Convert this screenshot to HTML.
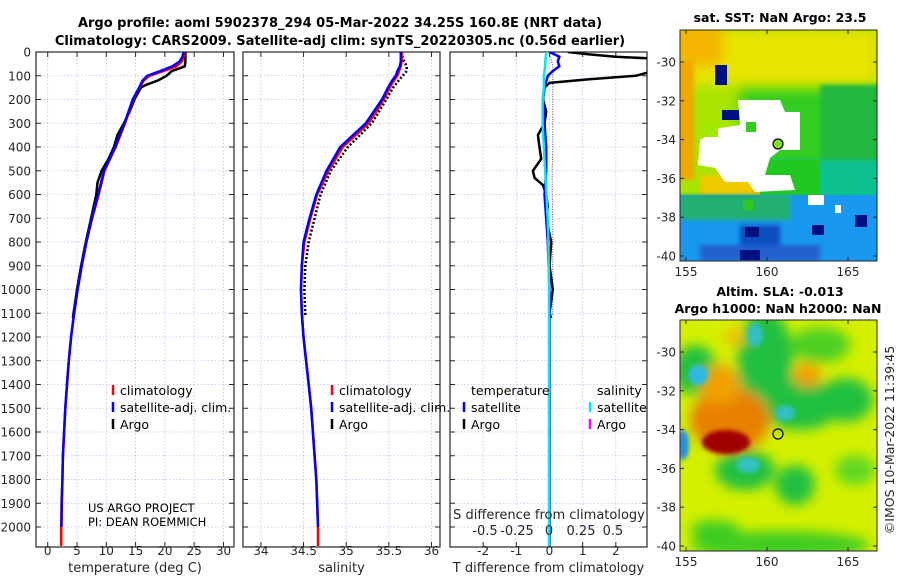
<!DOCTYPE html>
<html><head><meta charset="utf-8">
<style>
html,body{margin:0;padding:0;background:#fff;}
svg{display:block;font-family:"DejaVu Sans","Liberation Sans",sans-serif;}
.tk{font-size:12px;fill:#262626;}
.tt{font-size:13px;font-weight:bold;fill:#000;}
.lg{font-size:12px;fill:#000;}
</style></head>
<body>
<svg id="fig" width="900" height="580" viewBox="0 0 900 580" xmlns="http://www.w3.org/2000/svg">
<defs>
<filter id="bl" x="-50%" y="-50%" width="200%" height="200%"><feGaussianBlur stdDeviation="6"/></filter>
<filter id="bl2" x="-50%" y="-50%" width="200%" height="200%"><feGaussianBlur stdDeviation="2"/></filter>
<clipPath id="cm1"><rect x="680" y="30" width="197" height="231"/></clipPath>
<clipPath id="cm2"><rect x="680" y="320" width="197" height="231"/></clipPath>
<clipPath id="cp3"><rect x="450" y="52" width="197" height="495"/></clipPath>
</defs>
<text class="tt" x="340" y="27" text-anchor="middle">Argo profile: aoml 5902378_294 05-Mar-2022 34.25S 160.8E (NRT data)</text>
<text class="tt" x="340" y="45" text-anchor="middle">Climatology: CARS2009. Satellite-adj clim: synTS_20220305.nc (0.56d earlier)</text>
<g id="panels"></g>

<!-- SST map -->
<g>
<text class="tt" x="780" y="22" text-anchor="middle" style="font-size:12.5px">sat. SST: NaN Argo: 23.5</text>
<g clip-path="url(#cm1)">
<rect x="680" y="30" width="197" height="231" fill="#a8e400"/>
<rect x="680" y="30" width="197" height="55" fill="#e8e400" filter="url(#bl)"/>
<rect x="672" y="25" width="50" height="40" fill="#f5b400" filter="url(#bl)"/>
<rect x="672" y="60" width="22" height="120" fill="#f0a800" filter="url(#bl2)"/>
<rect x="740" y="90" width="140" height="80" fill="#30cc20" filter="url(#bl)"/>
<rect x="820" y="85" width="60" height="115" fill="#20b840" filter="url(#bl2)"/>
<rect x="770" y="160" width="110" height="40" fill="#10c090" filter="url(#bl2)"/>
<rect x="700" y="175" width="60" height="30" fill="#f0c800" filter="url(#bl2)"/>
<rect x="760" y="160" width="60" height="35" fill="#20c820"/>
<rect x="680" y="195" width="197" height="70" fill="#1898f0"/>
<rect x="680" y="195" width="110" height="25" fill="#20b070" filter="url(#bl2)"/>
<rect x="740" y="225" width="40" height="30" fill="#1050c0" filter="url(#bl2)"/>
<rect x="700" y="245" width="120" height="16" fill="#2060d0" filter="url(#bl2)"/>
<rect x="855" y="215" width="12" height="12" fill="#001080"/>
<rect x="740" y="250" width="20" height="10" fill="#001080"/>
<rect x="812" y="225" width="12" height="10" fill="#001080"/>
<rect x="745" y="227" width="14" height="10" fill="#001080"/>
<rect x="715" y="65" width="12" height="20" fill="#001080"/>
<rect x="722" y="110" width="18" height="10" fill="#001080"/>
<rect x="768" y="135" width="9" height="10" fill="#001080"/>
<rect x="733" y="130" width="10" height="8" fill="#0060d0"/>
<path d="M738 100 L780 100 L785 112 L800 112 L800 150 L780 150 L770 158 L765 175 L790 175 L795 190 L755 192 L748 182 L725 182 L715 168 L698 165 L700 140 L720 128 L740 125 Z" fill="#fff"/>
<rect x="746" y="122" width="10" height="10" fill="#30d020"/>
<rect x="706" y="122" width="12" height="15" fill="#a0e800"/>
<rect x="743" y="200" width="10" height="10" fill="#30c820"/>
<rect x="808" y="195" width="16" height="10" fill="#fff"/>
<rect x="835" y="205" width="6" height="8" fill="#fff"/>
</g>
<rect x="680" y="30" width="197" height="231" fill="none" stroke="#262626" stroke-width="1"/>
<circle cx="778" cy="144" r="5" fill="#80e020" stroke="#000" stroke-width="1.2"/>
<g id="m1ticks"></g>
</g>

<!-- SLA map -->
<g>
<text class="tt" x="780" y="296" text-anchor="middle" style="font-size:12.5px">Altim. SLA: -0.013</text>
<text class="tt" x="778" y="313" text-anchor="middle" style="font-size:12.5px">Argo h1000: NaN h2000: NaN</text>
<g clip-path="url(#cm2)">
<rect x="680" y="320" width="197" height="231" fill="#d4f000"/>
<g filter="url(#bl)">
<ellipse cx="765" cy="360" rx="28" ry="50" fill="#20c040"/>
<ellipse cx="800" cy="405" rx="40" ry="25" fill="#20c040"/>
<ellipse cx="695" cy="370" rx="22" ry="25" fill="#20c040"/>
<ellipse cx="845" cy="400" rx="28" ry="22" fill="#20c040"/>
<ellipse cx="745" cy="470" rx="30" ry="20" fill="#20c040"/>
<ellipse cx="795" cy="485" rx="20" ry="20" fill="#20c040"/>
<ellipse cx="820" cy="345" rx="30" ry="18" fill="#50d020"/>
<ellipse cx="780" cy="545" rx="90" ry="14" fill="#40cc20"/>
<ellipse cx="715" cy="530" rx="25" ry="10" fill="#40cc20"/>
<ellipse cx="855" cy="470" rx="20" ry="15" fill="#60d820"/>
<ellipse cx="730" cy="420" rx="40" ry="32" fill="#e88000"/>
<ellipse cx="720" cy="385" rx="20" ry="20" fill="#f0a000"/>
<ellipse cx="807" cy="375" rx="14" ry="12" fill="#f0a000"/>
<ellipse cx="735" cy="337" rx="12" ry="8" fill="#f0c000"/>
</g>
<g filter="url(#bl2)">
<ellipse cx="726" cy="442" rx="24" ry="12" fill="#a00000"/>
<ellipse cx="698" cy="375" rx="10" ry="10" fill="#30b8e0"/>
<ellipse cx="748" cy="465" rx="12" ry="8" fill="#30c0c0"/>
<ellipse cx="755" cy="335" rx="8" ry="12" fill="#30c0c0"/>
<ellipse cx="785" cy="413" rx="10" ry="8" fill="#30c0c0"/>
<ellipse cx="683" cy="445" rx="6" ry="15" fill="#2090e0"/>
</g>
</g>
<rect x="680" y="320" width="197" height="231" fill="none" stroke="#262626" stroke-width="1"/>
<circle cx="778" cy="434" r="5" fill="none" stroke="#000" stroke-width="1.2"/>
<g id="m2ticks"></g>
</g>
<text x="894" y="440" transform="rotate(-90 894 440)" text-anchor="middle" style="font-size:12.5px;fill:#262626">©IMOS 10-Mar-2022 11:39:45</text>
</svg>
<script>
// ---------- data ----------
const climDepth = [0,20,40,60,80,100,120,150,200,300,400,500,600,700,800,900,1000,1100,1200,1300,1400,1500,1600,1700,1800,1900,2000,2080];
const climTemp = [23.3,23.2,22.9,22.0,19.8,17.4,16.4,15.7,14.6,13.2,11.6,9.7,8.7,7.6,6.6,5.8,5.1,4.5,4.0,3.6,3.3,3.0,2.8,2.6,2.5,2.35,2.3,2.3];
const satTemp = [23.2,23.0,22.5,21.3,19.2,17.0,16.2,15.6,14.5,13.1,11.5,9.6,8.6,7.5,6.6,5.8,5.1,4.5,4.0,3.6,3.3,3.0,2.8,2.6,2.5,2.4,2.35];
const argoTDepth = [0,20,40,60,70,80,100,120,140,150,200,250,300,350,400,450,500,550,600,700,800,900,1000,1100,1120];
const argoTemp = [23.5,23.5,23.5,23.4,22.4,21.2,20.3,18.8,16.6,15.9,14.8,14.0,13.0,11.9,11.3,10.4,9.2,8.5,8.3,7.4,6.5,5.7,5.0,4.4,4.3];
const climSal = [35.65,35.65,35.65,35.64,35.62,35.6,35.56,35.51,35.44,35.26,34.96,34.79,34.66,34.58,34.51,34.48,34.47,34.48,34.5,34.53,34.56,34.59,34.61,34.63,34.65,34.66,34.67,34.67];
const satSal = [35.64,35.64,35.64,35.63,35.6,35.58,35.54,35.49,35.42,35.23,34.93,34.77,34.65,34.57,34.5,34.48,34.47,34.48,34.5,34.53,34.56,34.59,34.61,34.63,34.65,34.66,34.67];
const argoSDepth = [0,20,40,60,80,100,150,200,300,400,500,600,700,800,900,1000,1100,1110];
const argoSal = [35.65,35.66,35.68,35.71,35.71,35.66,35.55,35.47,35.30,35.02,34.82,34.70,34.63,34.56,34.52,34.51,34.52,34.52];
const argoTdDepth = [0,10,20,30,40,55,70,85,100,115,130,150,200,250,300,350,400,450,500,530,560,600,650,700,800,900,1000,1100,1120];
const argoTdiff = [0.55,1.2,2.0,3.5,4.5,4.5,4.0,3.0,2.6,1.2,0.0,-0.15,-0.2,-0.1,-0.15,-0.35,-0.3,-0.25,-0.5,-0.45,-0.2,-0.1,-0.05,-0.1,0.05,0.0,0.1,0.0,0.05];
const diffDepth = [0,20,40,60,80,100,150,200,300,400,500,600,700,800,1000,1200,1500,2000,2080];
const satTdiff = [0.0,0.3,0.25,0.3,0.1,-0.05,-0.15,-0.2,-0.15,-0.1,-0.1,-0.15,-0.1,-0.05,0,0,0,0,0];
const satSdiff = [-0.02,-0.025,-0.03,-0.03,-0.035,-0.04,-0.04,-0.05,-0.05,-0.04,-0.03,-0.02,-0.01,-0.005,0,0,0,0,0];
const argoSdiff = [0.0,0.01,0.02,0.03,0.035,0.03,0.03,0.03,0.03,0.03,0.025,0.025,0.03,0.03,0.03,0.03,0.03,0.03];
const depthTicks = [0,100,200,300,400,500,600,700,800,900,1000,1100,1200,1300,1400,1500,1600,1700,1800,1900,2000];
const tempTicks = [0,5,10,15,20,25,30];
const salTicks = [34,34.5,35,35.5,36];
const tdTicks = [-2,-1,0,1,2];
const sdTicks = ["-0.5","-0.25","0","0.25","0.5"];
const sdTickVals = [-0.5,-0.25,0,0.25,0.5];
const latTicks = [-30,-32,-34,-36,-38,-40];
const lonTicks = [155,160,165];

// ---------- helpers ----------
const NS="http://www.w3.org/2000/svg";
const root=document.getElementById('panels');
function mk(tag,attrs,parent){const e=document.createElementNS(NS,tag);for(const k in attrs)e.setAttribute(k,attrs[k]);(parent||root).appendChild(e);return e;}
const Y0=52, YS=0.2375, PB=547;
const yD = d => Y0 + d*YS;
function panel(x0,w,xmin,xmax,name){return {x0,w,xmin,xmax,name,sx:v=>x0+(v-xmin)/(xmax-xmin)*w};}
const P1=panel(36,198,-2.0,31.8,'temperature');
const P2=panel(243,197,33.79,36.1,'salinity');
const P3=panel(450,197,-3.0,2.94,'tdiff');
const sdX = v => 549 + v*128;

function frame(P,ticks,labels,title){
  const g=mk('g',{});
  
  
  for(const d of depthTicks){const l=mk('line',{x1:P.x0,x2:P.x0+P.w,y1:yD(d),y2:yD(d),stroke:'#b8c4e8','stroke-width':0.8,'stroke-dasharray':'1.5,2'},g);
    
    
    mk('line',{x1:P.x0,x2:P.x0+5,y1:yD(d),y2:yD(d),stroke:'#262626'},g);
    mk('line',{x1:P.x0+P.w-5,x2:P.x0+P.w,y1:yD(d),y2:yD(d),stroke:'#262626'},g);}
  ticks.forEach((t,i)=>{const x=P.sx(t);
    mk('line',{x1:x,x2:x,y1:Y0,y2:PB,stroke:'#b8c4e8','stroke-width':0.8,'stroke-dasharray':'1.5,2'},g);
    mk('line',{x1:x,x2:x,y1:PB-5,y2:PB,stroke:'#262626'},g);
    mk('line',{x1:x,x2:x,y1:Y0,y2:Y0+5,stroke:'#262626'},g);
    const t2=mk('text',{x:x,y:555,'text-anchor':'middle',class:'tk'},g);t2.textContent=labels[i];
    
    });
  mk('rect',{x:P.x0,y:Y0,width:P.w,height:PB-Y0,fill:'none',stroke:'#262626','stroke-width':1.2},g);
  const tt=mk('text',{x:P.x0+P.w/2,y:572,'text-anchor':'middle',class:'tk',style:'font-size:13px'},g);tt.textContent=title;
  
  
  return g;
}
function line(xs,ds,sx,style,name,parent){
  let d='';for(let i=0;i<Math.min(xs.length,ds.length);i++){d+=(i?'L':'M')+sx(xs[i]).toFixed(1)+' '+yD(ds[i]).toFixed(1);}
  const p=mk('path',Object.assign({d:d,fill:'none','stroke-linejoin':'round'},style),parent);
  
  
  return p;
}
for(const d of depthTicks){const t=mk('text',{x:31,y:yD(d)+4.5,'text-anchor':'end',class:'tk'});t.textContent=d;
  
  }

const g1=frame(P1,tempTicks,tempTicks.map(String),'temperature (deg C)');
line(argoTemp,argoTDepth,P1.sx,{stroke:'#000','stroke-width':2.5},'argo-temperature-line',g1);
line(climTemp,climDepth,P1.sx,{stroke:'#f00','stroke-width':2.5},'climatology-temperature-line',g1);
line(satTemp,climDepth,P1.sx,{stroke:'#00f','stroke-width':2.5},'satellite-temperature-line',g1);
const g2=frame(P2,salTicks,salTicks.map(String),'salinity');
line(argoSal,argoSDepth,P2.sx,{stroke:'#000','stroke-width':2.5,'stroke-dasharray':'2,2'},'argo-salinity-line',g2);
line(climSal,climDepth,P2.sx,{stroke:'#f00','stroke-width':2.5},'climatology-salinity-line',g2);
line(satSal,climDepth,P2.sx,{stroke:'#00f','stroke-width':2.5},'satellite-salinity-line',g2);
const g3=frame(P3,tdTicks,tdTicks.map(String),'T difference from climatology');
const c3=mk('g',{'clip-path':'url(#cp3)'},g3);
line(argoSdiff,argoSDepth,sdX,{stroke:'#444','stroke-width':1,'stroke-dasharray':'1,1.5'},'argo-salinity-diff-line',c3);
line(argoTdiff,argoTdDepth,P3.sx,{stroke:'#000','stroke-width':2.5},'argo-temperature-diff-line',c3);
line(satTdiff,diffDepth,P3.sx,{stroke:'#00f','stroke-width':2.5},'satellite-temperature-diff-line',c3);
line(satSdiff,diffDepth,sdX,{stroke:'#00e8f0','stroke-width':2.5},'satellite-salinity-diff-line',c3);
const st=mk('text',{x:549,y:519,'text-anchor':'middle',class:'tk',style:'font-size:13px'},g3);st.textContent='S difference from climatology';


sdTickVals.forEach((v,i)=>{const t=mk('text',{x:sdX(v),y:535,'text-anchor':'middle',class:'tk',style:'font-size:13px'},g3);t.textContent=sdTicks[i];
  
  });

function legend(x,y,items,name){
  const g=mk('g',{});
  
  
  items.forEach((it,i)=>{const yy=y+i*17;
    if(it[0]) mk('line',{x1:x,x2:x,y1:yy-6,y2:yy+4,stroke:it[0],'stroke-width':2.5},g);
    const t=mk('text',{x:x+7,y:yy+4,class:'lg',style:'font-size:12.5px'},g);t.textContent=it[1];});
}
legend(113,391,[['#f00','climatology'],['#00f','satellite-adj. clim.'],['#000','Argo']],'temperature-legend');
legend(332,391,[['#f00','climatology'],['#00f','satellite-adj. clim.'],['#000','Argo']],'salinity-legend');
legend(464,391,[[null,'temperature'],['#00f','satellite'],['#000','Argo']],'tdiff-legend');
legend(590,391,[[null,'salinity'],['#00e8f0','satellite'],['#f0f','Argo']],'sdiff-legend');
const cr=mk('text',{x:88,y:512,class:'lg',style:'font-size:11.5px'});cr.textContent='US ARGO PROJECT';


const cr2=mk('text',{x:88,y:526,class:'lg',style:'font-size:11.5px'});cr2.textContent='PI: DEAN ROEMMICH';



function mapTicks(id,top,bot,lat30y){
  const g=document.getElementById(id);
  for(const la of latTicks){const y=lat30y+(-30-la)*19.4;
    mk('line',{x1:680,x2:684,y1:y,y2:y,stroke:'#262626'},g);
    mk('line',{x1:873,x2:877,y1:y,y2:y,stroke:'#262626'},g);
    const t=mk('text',{x:676,y:y+4.5,'text-anchor':'end',class:'tk'},g);t.textContent=la;
    
    }
  for(const lo of lonTicks){const x=686+(lo-155)*16.2;
    mk('line',{x1:x,x2:x,y1:bot-4,y2:bot,stroke:'#262626'},g);
    mk('line',{x1:x,x2:x,y1:top,y2:top+4,stroke:'#262626'},g);
    const t=mk('text',{x:x,y:bot+15,'text-anchor':'middle',class:'tk'},g);t.textContent=lo;
    
    }
}
mapTicks('m1ticks',30,261,62);
mapTicks('m2ticks',320,551,352);
</script>
</body></html>
